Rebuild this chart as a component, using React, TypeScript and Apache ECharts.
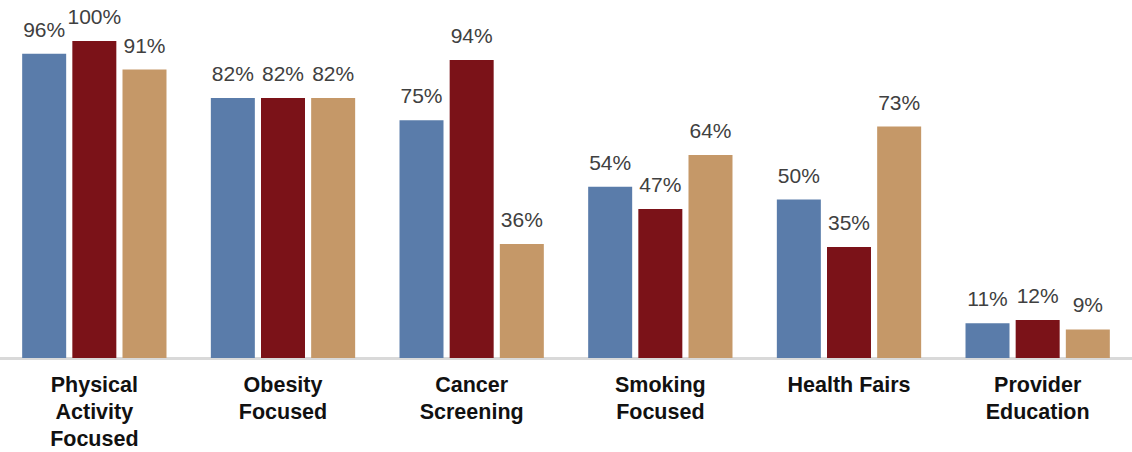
import React, { useEffect, useRef } from "react";
import * as echarts from "echarts";

// Program categories (multi-line axis labels) and the three groups' percentages
const categories = [
  "Physical\nActivity\nFocused",
  "Obesity\nFocused",
  "Cancer\nScreening",
  "Smoking\nFocused",
  "Health Fairs",
  "Provider\nEducation",
];
const seriesA = [96, 82, 75, 54, 50, 11];
const seriesB = [100, 82, 94, 47, 35, 12];
const seriesC = [91, 82, 36, 64, 73, 9];

const colors = ["#5A7CAA", "#7B1218", "#C59868"];

export default function App() {
  const ref = useRef<HTMLDivElement>(null);

  useEffect(() => {
    if (!ref.current) return;
    const chart = echarts.init(ref.current, null, { renderer: "svg" });

    const label = {
      show: true,
      position: "top" as const,
      distance: 14,
      color: "#404040",
      fontFamily: "Liberation Sans, Arial, sans-serif",
      fontSize: 21,
      formatter: (p: any) => `${p.value}%`,
    };

    const mk = (name: string, data: number[], color: string) => ({
      name,
      type: "bar" as const,
      data,
      barWidth: 44,
      barGap: "14%",
      itemStyle: { color },
      label,
    });

    chart.setOption({
      animation: false,
      backgroundColor: "#ffffff",
      grid: { left: -2, right: -3, top: 41, height: 317, containLabel: false },
      xAxis: {
        type: "category",
        data: categories,
        axisLine: { show: true, lineStyle: { color: "#D9D9D9", width: 3 } },
        axisTick: { show: false },
        axisLabel: {
          interval: 0,
          margin: 13,
          color: "#111111",
          fontFamily: "Liberation Sans, Arial, sans-serif",
          fontWeight: "bold",
          fontSize: 21.5,
          lineHeight: 27,
        },
      },
      yAxis: {
        type: "value",
        min: 0,
        max: 100,
        show: false,
        splitLine: { show: false },
      },
      series: [
        mk("Group 1", seriesA, colors[0]),
        mk("Group 2", seriesB, colors[1]),
        mk("Group 3", seriesC, colors[2]),
      ],
    });

    return () => chart.dispose();
  }, []);

  return (
    <div
      ref={ref}
      style={{ position: "absolute", left: 0, top: 0, width: 1132, height: 452 }}
    />
  );
}
